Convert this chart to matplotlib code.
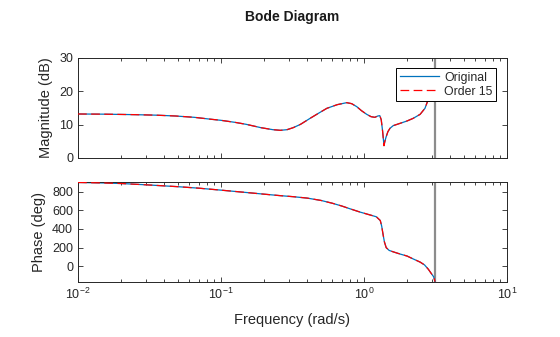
import numpy as np
import matplotlib
matplotlib.use("Agg")
import matplotlib.pyplot as plt
from matplotlib.ticker import LogLocator, NullFormatter

plt.rcParams['font.family'] = ['Liberation Sans', 'DejaVu Sans']
plt.rcParams['mathtext.default'] = 'regular'

# values (frequency in rad/s)
w_mag = [0.01, 0.015, 0.025, 0.035, 0.048, 0.065, 0.082, 0.1, 0.125, 0.15,
         0.19, 0.23, 0.26, 0.29, 0.32, 0.36, 0.42, 0.48, 0.55, 0.65,
         0.757, 0.82, 0.89, 0.96, 1.045, 1.12, 1.19, 1.25, 1.29, 1.32,
         1.35, 1.38, 1.40, 1.43, 1.47, 1.52, 1.6, 1.79, 2.0, 2.21,
         2.47, 2.67, 2.79, 2.9, 3.02, 3.1416]
mag_db = [13.2, 13.15, 13.0, 12.85, 12.6, 12.2, 11.7, 11.3, 10.7, 10.1,
          9.1, 8.5, 8.3, 8.5, 9.1, 10.1, 11.9, 13.4, 14.9, 16.0,
          16.6, 16.3, 15.4, 14.2, 13.1, 12.4, 12.2, 12.6, 12.7, 11.5,
          8.0, 3.7, 5.0, 6.4, 7.9, 8.9, 9.7, 10.4, 11.1, 11.9,
          13.1, 14.9, 17.1, 19.5, 21.5, 23.0]

w_ph = [0.01, 0.015, 0.02, 0.03, 0.05, 0.07, 0.1, 0.15, 0.2, 0.26,
        0.32, 0.4, 0.5, 0.6, 0.7, 0.8, 0.94, 1.1, 1.22, 1.3,
        1.33, 1.36, 1.39, 1.43, 1.5, 1.6, 1.8, 2.0, 2.2, 2.47,
        2.65, 2.82, 2.95, 3.07, 3.1416]
phase_deg = [897, 892, 886, 872, 852, 836, 815, 790, 772, 756,
             745, 730, 705, 675, 645, 615, 580, 550, 530, 490,
             430, 340, 260, 200, 170, 155, 130, 110, 80, 45,
             15, -32, -75, -112, -165]

w_nyq = np.pi
labels = ['Original', 'Order 15']

fig = plt.figure(figsize=(5.6, 3.37), dpi=100)
ax_m = fig.add_axes([0.1393, 0.5312, 0.766, 0.2967])
ax_p = fig.add_axes([0.1393, 0.1632, 0.766, 0.2967])

axis_col = '#262626'
for ax in (ax_m, ax_p):
    ax.set_xscale('log')
    ax.set_xlim(0.01, 10)
    ax.axvline(w_nyq, color='#8c8c8c', lw=1.6, zorder=1)
    ax.tick_params(which='both', direction='in', top=True, right=True,
                   colors=axis_col, labelsize=9, width=0.6)
    ax.tick_params(which='major', length=3.5)
    ax.tick_params(which='minor', length=2)
    ax.xaxis.set_major_locator(LogLocator(base=10, numticks=10))
    ax.xaxis.set_minor_locator(LogLocator(base=10, subs=np.arange(2, 10), numticks=20))
    ax.xaxis.set_minor_formatter(NullFormatter())
    for s in ax.spines.values():
        s.set_color(axis_col)
        s.set_linewidth(0.7)

dash = (0, (7, 3.5))
ax_m.plot(w_mag, mag_db, color='#0072BD', lw=0.9, label=labels[0], zorder=2)
ax_m.plot(w_mag, mag_db, color='red', lw=0.9, ls=dash, label=labels[1], zorder=3)
ax_p.plot(w_ph, phase_deg, color='#0072BD', lw=0.9, zorder=2)
ax_p.plot(w_ph, phase_deg, color='red', lw=0.9, ls=dash, zorder=3)

ax_m.set_ylim(0, 30)
ax_m.set_yticks([0, 10, 20, 30])
ax_m.tick_params(labelbottom=False)
ax_p.set_ylim(-168, 902)
ax_p.set_yticks([0, 200, 400, 600, 800])

ax_m.set_ylabel('Magnitude (dB)', fontsize=10.5, color=axis_col)
ax_m.yaxis.set_label_coords(-0.058, 0.5)
ax_p.set_ylabel('Phase (deg)', fontsize=10.5, color=axis_col)
ax_p.yaxis.set_label_coords(-0.075, 0.5)
ax_p.set_xlabel('Frequency (rad/s)', fontsize=10.5, color=axis_col, va='top')
ax_p.xaxis.set_label_coords(0.5, -0.31)

fig.text(0.522, 1 - 17 / 337, 'Bode Diagram', fontsize=10, fontweight='bold',
         ha='center', va='center', color='#1a1a1a')

leg = ax_m.legend(loc='upper right', bbox_to_anchor=(496 / 560, 1 - 68 / 337),
                  bbox_transform=fig.transFigure, borderaxespad=0, fontsize=8.8,
                  fancybox=False, framealpha=1, edgecolor='black',
                  handlelength=3.2, handletextpad=0.4, borderpad=0.3,
                  labelspacing=0.15)
leg.get_frame().set_linewidth(0.7)
for t in leg.get_texts():
    t.set_color(axis_col)

fig.savefig('out.png', dpi=100)
